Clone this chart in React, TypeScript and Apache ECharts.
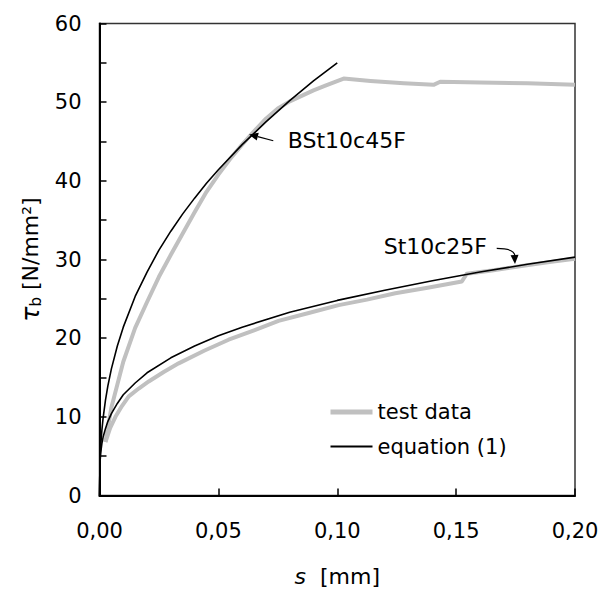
import { useEffect, useRef } from 'react';
import * as echarts from 'echarts';

const FONT = 'DejaVu Sans';

// BSt10c45F – test data
const sBStTest = [0.0025, 0.005, 0.01, 0.015, 0.02, 0.025, 0.03, 0.035, 0.04, 0.045, 0.05, 0.055, 0.06, 0.065, 0.07, 0.075, 0.08, 0.085, 0.09, 0.095, 0.1027, 0.114, 0.128, 0.1405, 0.1433, 0.16, 0.18, 0.2];
const tauBStTest = [6.8, 11.2, 17.0, 21.3, 24.6, 27.8, 30.6, 33.3, 36.0, 38.6, 40.8, 42.8, 44.6, 46.3, 47.9, 49.2, 50.1, 50.8, 51.5, 52.1, 53.0, 52.7, 52.4, 52.2, 52.6, 52.5, 52.4, 52.2];

// St10c25F – test data
const sStTest = [0.0025, 0.0045, 0.0067, 0.0095, 0.0123, 0.0165, 0.0207, 0.027, 0.0333, 0.044, 0.0543, 0.065, 0.0753, 0.088, 0.1006, 0.1125, 0.1244, 0.138, 0.1524, 0.1545, 0.165, 0.1804, 0.19, 0.2];
const tauStTest = [6.8, 8.6, 10.0, 11.4, 12.6, 13.6, 14.5, 15.7, 16.8, 18.4, 19.8, 21.0, 22.2, 23.2, 24.2, 24.9, 25.7, 26.4, 27.2, 28.2, 28.6, 29.3, 29.7, 30.1];

// BSt10c45F – equation (1)
const sBStEq = [0, 0.0002, 0.0005, 0.001, 0.0015, 0.0025, 0.0035, 0.005, 0.0075, 0.01, 0.015, 0.02, 0.025, 0.03, 0.035, 0.04, 0.045, 0.05, 0.06, 0.07, 0.08, 0.09, 0.1];
const tauBStEq = [0, 4.3, 6.3, 8.3, 9.8, 12.1, 13.9, 16.1, 19.0, 21.4, 25.3, 28.4, 31.2, 33.6, 35.8, 37.8, 39.7, 41.4, 44.6, 47.5, 50.2, 52.7, 55.0];

// St10c25F – equation (1)
const sStEq = [0, 0.0002, 0.0005, 0.001, 0.0015, 0.0025, 0.0035, 0.005, 0.0075, 0.01, 0.015, 0.02, 0.03, 0.04, 0.05, 0.06, 0.08, 0.1, 0.12, 0.14, 0.16, 0.18, 0.2];
const tauStEq = [0, 4.1, 5.4, 6.6, 7.4, 8.5, 9.4, 10.4, 11.7, 12.8, 14.3, 15.6, 17.5, 19.0, 20.3, 21.4, 23.3, 24.8, 26.1, 27.3, 28.4, 29.4, 30.3];

const legendNames = ['test data', 'equation (1)'];
const labelBSt = 'BSt10c45F';
const labelSt = 'St10c25F';

const pairs = (xs: number[], ys: number[]) => xs.map((x, i) => [x, ys[i]]);

function arrowHead(tip: number[], from: number[], len: number, half: number) {
  const dx = from[0] - tip[0];
  const dy = from[1] - tip[1];
  const d = Math.hypot(dx, dy) || 1;
  const ux = dx / d, uy = dy / d;
  const bx = tip[0] + ux * len, by = tip[1] + uy * len;
  return [
    [tip[0], tip[1]],
    [bx - uy * half, by + ux * half],
    [bx + uy * half, by - ux * half],
  ];
}

export default function App() {
  const ref = useRef<HTMLDivElement>(null);
  useEffect(() => {
    document.body.style.margin = '0';
    const chart = echarts.init(ref.current!, null, { renderer: 'svg' });
    const gray = '#c0c0c0';
    const black = '#000000';
    chart.setOption({
      animation: false,
      backgroundColor: '#ffffff',
      grid: {
        left: 99.5, right: 23, top: 23.5, bottom: 94.5,
        show: true, borderColor: '#333', borderWidth: 1.5,
        containLabel: false, outerBoundsMode: 'none',
      },
      legend: {
        data: [
          { name: legendNames[0], lineStyle: { width: 5, color: gray } },
          { name: legendNames[1], lineStyle: { width: 2, color: black } },
        ],
        orient: 'vertical',
        left: 328, top: 401,
        itemWidth: 42, itemHeight: 14, itemGap: 12.5, padding: 0,
        itemStyle: { opacity: 0 },
        textStyle: { fontFamily: FONT, fontSize: 21, color: '#000', lineHeight: 22 },
      },
      xAxis: {
        type: 'value', min: 0, max: 0.2, interval: 0.05,
        name: '{i|s}  [mm]',
        nameLocation: 'middle', nameGap: 70,
        nameTextStyle: {
          fontFamily: FONT, fontSize: 22, color: '#000',
          rich: { i: { fontFamily: FONT, fontSize: 22, fontStyle: 'italic', color: '#000' } },
        },
        axisLine: { lineStyle: { color: '#000', width: 2.2 } },
        axisTick: { inside: true, length: 7, lineStyle: { color: '#000', width: 1.5 } },
        axisLabel: {
          margin: 25, fontFamily: FONT, fontSize: 21, color: '#000',
          formatter: (v: number) => v.toFixed(2).replace('.', ','),
        },
        splitLine: { show: false },
      },
      yAxis: {
        type: 'value', min: 0, max: 60, interval: 5,
        name: '{t|τ}{b|b} [N/mm²]',
        nameLocation: 'middle', nameRotate: 90, nameGap: 56,
        nameTextStyle: {
          fontFamily: FONT, fontSize: 22, color: '#000',
          rich: {
            t: { fontFamily: FONT, fontSize: 25, fontStyle: 'italic', color: '#000', lineHeight: 26 },
            b: { fontFamily: FONT, fontSize: 15, color: '#000', lineHeight: 12, verticalAlign: 'bottom' },
          },
        },
        axisLine: { lineStyle: { color: '#000', width: 2 } },
        axisTick: { inside: true, length: 7, lineStyle: { color: '#000', width: 1.5 } },
        axisLabel: {
          margin: 18, fontFamily: FONT, fontSize: 21, color: '#000',
          formatter: (v: number) => (v % 10 === 0 ? String(v) : ''),
        },
        splitLine: { show: false },
      },
      series: [
        { type: 'line', name: legendNames[0], data: pairs(sBStTest, tauBStTest), symbol: 'none', color: gray, lineStyle: { color: gray, width: 4, join: 'round' }, z: 2 },
        { type: 'line', name: legendNames[0], data: pairs(sStTest, tauStTest), symbol: 'none', color: gray, lineStyle: { color: gray, width: 4, join: 'round' }, z: 2 },
        { type: 'line', name: legendNames[1], data: pairs(sBStEq, tauBStEq), symbol: 'none', color: black, lineStyle: { color: black, width: 1.6, join: 'round' }, z: 3 },
        { type: 'line', name: legendNames[1], data: pairs(sStEq, tauStEq), symbol: 'none', color: black, lineStyle: { color: black, width: 1.6, join: 'round' }, z: 3 },
      ],
    });

    const px = (s: number, t: number) => chart.convertToPixel({ gridIndex: 0 }, [s, t]) as number[];
    // BSt10c45F annotation
    const tip1 = px(0.0629, 45.9);
    const tail1 = px(0.0731, 45.1);
    const txt1 = px(0.0792, 45.17);
    const head1 = arrowHead(tip1, tail1, 9, 4);
    // St10c25F annotation
    const start2 = px(0.16707, 31.42);
    const tip2 = px(0.17476, 29.43);
    const txt2 = px(0.16299, 31.59);
    const base2 = [tip2[0], tip2[1] - 8];
    const head2 = arrowHead(tip2, [tip2[0] - 0.5, tip2[1] - 10], 9, 4);

    chart.setOption({
      graphic: [
        { type: 'line', shape: { x1: tail1[0], y1: tail1[1], x2: (head1[1][0] + head1[2][0]) / 2, y2: (head1[1][1] + head1[2][1]) / 2 }, style: { stroke: '#000', lineWidth: 1.2 }, z: 10 },
        { type: 'polygon', shape: { points: head1 }, style: { fill: '#000' }, z: 10 },
        { type: 'text', x: txt1[0], y: txt1[1], style: { text: labelBSt, fontFamily: FONT, fontSize: 22, fill: '#000', align: 'left', verticalAlign: 'middle' }, z: 10 },
        {
          type: 'bezierCurve',
          shape: {
            x1: start2[0], y1: start2[1],
            cpx1: start2[0] + 11, cpy1: start2[1],
            cpx2: base2[0] - 0.5, cpy2: base2[1] - 6,
            x2: base2[0], y2: base2[1],
          },
          style: { stroke: '#000', lineWidth: 1.2, fill: 'none' }, z: 10,
        },
        { type: 'polygon', shape: { points: head2 }, style: { fill: '#000' }, z: 10 },
        { type: 'text', x: txt2[0], y: txt2[1], style: { text: labelSt, fontFamily: FONT, fontSize: 22, fill: '#000', align: 'right', verticalAlign: 'middle' }, z: 10 },
      ],
    });
    return () => chart.dispose();
  }, []);
  return <div ref={ref} style={{ width: 598, height: 590 }} />;
}
